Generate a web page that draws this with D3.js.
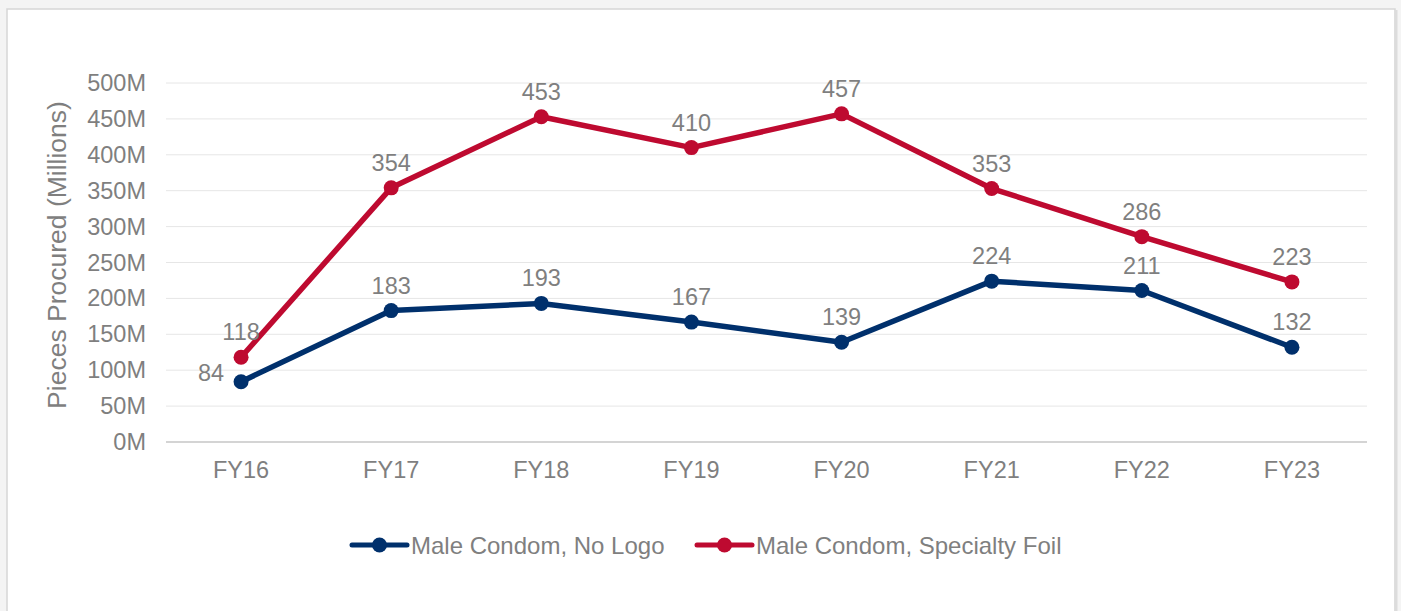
<!DOCTYPE html>
<html lang="en">
<head>
    <meta charset="UTF-8" />
    <title>Pieces Procured</title>
    <style>
        body { margin: 0; background: #f4f4f4; }
        svg { display: block; font-family: "Liberation Sans", Arial, sans-serif; }
        .tick text { fill: #7f7f7f; }
    </style>
</head>
<body>
    <svg></svg>
    <script src="https://d3js.org/d3.v7.min.js"></script>
    <script>
        const years = ["FY16", "FY17", "FY18", "FY19", "FY20", "FY21", "FY22", "FY23"];
        const noLogo = [84, 183, 193, 167, 139, 224, 211, 132];
        const specialtyFoil = [118, 354, 453, 410, 457, 353, 286, 223];
        const yTicks = [0, 50, 100, 150, 200, 250, 300, 350, 400, 450, 500];
        const seriesNames = ["Male Condom, No Logo", "Male Condom, Specialty Foil"];
        const seriesColors = ["#00306c", "#be0a30"];

        const width = 1401, height = 611;
        const plotLeft = 166, plotRight = 1367, plotTop = 83, plotBottom = 442;
        const textColor = "#7f7f7f";

        const svg = d3.select("svg")
            .attr("width", width)
            .attr("height", height);

        // card background
        svg.append("rect")
            .attr("x", 7).attr("y", 9)
            .attr("width", 1388).attr("height", 640)
            .attr("fill", "#fff")
            .attr("stroke", "#d6d6d6")
            .attr("stroke-width", 1.5);
        svg.append("line")
            .attr("x1", 1396).attr("x2", 1396)
            .attr("y1", 10).attr("y2", height)
            .attr("stroke", "#dcdcdc").attr("stroke-width", 3);

        const x = d3.scaleBand().domain(years).range([plotLeft, plotRight]);
        const y = d3.scaleLinear().domain([0, 500]).range([plotBottom, plotTop]);
        const cx = d => x(d) + x.bandwidth() / 2;

        // gridlines
        svg.append("g")
            .selectAll("line")
            .data(yTicks)
            .join("line")
            .attr("x1", plotLeft).attr("x2", plotRight)
            .attr("y1", d => y(d)).attr("y2", d => y(d))
            .attr("stroke", d => d === 0 ? "#d4d4d4" : "#e6e6e6")
            .attr("stroke-width", d => d === 0 ? 2 : 1);

        // y axis labels
        const yAxis = svg.append("g")
            .attr("transform", `translate(${plotLeft - 20},0)`)
            .call(d3.axisLeft(y).tickValues(yTicks).tickSize(0).tickPadding(0).tickFormat(d => d + "M"));
        yAxis.select(".domain").remove();
        yAxis.selectAll("text").attr("font-size", 23.5).attr("font-family", "Liberation Sans, Arial, sans-serif");

        // x axis labels
        const xAxis = svg.append("g")
            .attr("transform", `translate(0,${plotBottom + 19})`)
            .call(d3.axisBottom(x).tickSize(0).tickPadding(0));
        xAxis.select(".domain").remove();
        xAxis.selectAll("text").attr("font-size", 23.5).attr("dy", "0.71em").attr("font-family", "Liberation Sans, Arial, sans-serif");

        // y title
        svg.append("text")
            .attr("transform", `translate(57,255) rotate(-90)`)
            .attr("text-anchor", "middle")
            .attr("dominant-baseline", "central")
            .attr("font-size", 26.5)
            .attr("fill", textColor)
            .text("Pieces Procured (Millions)");

        const series = [noLogo, specialtyFoil];
        const line = d3.line()
            .x((d, i) => cx(years[i]))
            .y(d => y(d));

        series.forEach((vals, s) => {
            svg.append("path")
                .datum(vals)
                .attr("fill", "none")
                .attr("stroke", seriesColors[s])
                .attr("stroke-width", 5.5)
                .attr("stroke-linejoin", "round")
                .attr("d", line);

            svg.append("g")
                .selectAll("circle")
                .data(vals)
                .join("circle")
                .attr("cx", (d, i) => cx(years[i]))
                .attr("cy", d => y(d))
                .attr("r", 7.5)
                .attr("fill", seriesColors[s]);

            svg.append("g")
                .selectAll("text")
                .data(vals)
                .join("text")
                .attr("x", (d, i) => (s === 0 && i === 0) ? cx(years[i]) - 17 : cx(years[i]))
                .attr("y", (d, i) => (s === 0 && i === 0) ? y(d) - 9 : y(d) - 25)
                .attr("text-anchor", (d, i) => (s === 0 && i === 0) ? "end" : "middle")
                .attr("dominant-baseline", "central")
                .attr("font-size", 23.5)
                .attr("fill", textColor)
                .text(d => d);
        });

        // legend
        const legendX = [352, 697];
        const legendY = 545;
        seriesNames.forEach((name, s) => {
            const g = svg.append("g").attr("transform", `translate(${legendX[s]},${legendY})`);
            g.append("line")
                .attr("x1", 0).attr("x2", 55)
                .attr("stroke", seriesColors[s])
                .attr("stroke-width", 5)
                .attr("stroke-linecap", "round");
            g.append("circle")
                .attr("cx", 27.5).attr("r", 7.5)
                .attr("fill", seriesColors[s]);
            g.append("text")
                .attr("x", 59)
                .attr("dominant-baseline", "central")
                .attr("font-size", 24)
                .attr("fill", textColor)
                .text(name);
        });
    </script>
</body>
</html>
